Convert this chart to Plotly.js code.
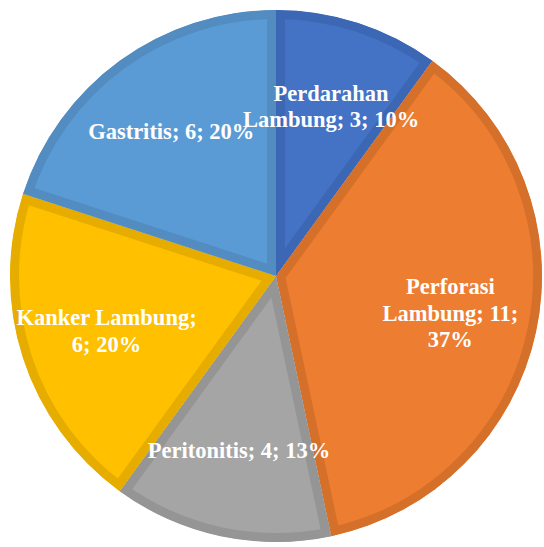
<!DOCTYPE html>
<html><head><meta charset="utf-8">
<script src="https://cdn.plot.ly/plotly-3.0.1.min.js"></script>
<style>html,body{margin:0;padding:0;background:#fff}</style>
</head><body>
<div id="chart" style="width:544px;height:547px"></div>
<script>
const categories = ['Perdarahan<br>Lambung', 'Perforasi<br>Lambung', 'Peritonitis', 'Kanker Lambung', 'Gastritis'];
const values = [3, 11, 4, 6, 6];
const templates = [
  '%{label}; %{value}; %{percent:.0%}',
  '%{label}; %{value};<br>%{percent:.0%}',
  '%{label}; %{value}; %{percent:.0%}',
  '%{label};<br>%{value}; %{percent:.0%}',
  '%{label}; %{value}; %{percent:.0%}'
];
const fillColors = ['#4472C4', '#ED7D31', '#A5A5A5', '#FFC000', '#5B9BD5'];
const lineColors = ['#3C67B4', '#D5702B', '#959595', '#E6AD00', '#528CC0'];
const labelRadiusFraction = 0.67;
const lineSpacingScale = 1.17 / 1.3;

Plotly.newPlot('chart', [{
  type: 'pie',
  labels: categories,
  values: values,
  texttemplate: templates,
  textposition: 'inside',
  insidetextorientation: 'horizontal',
  sort: false,
  direction: 'clockwise',
  rotation: 0,
  hoverinfo: 'none',
  marker: {colors: fillColors, line: {color: lineColors, width: 18}},
  textfont: {family: 'Liberation Serif', size: 22.5, color: '#ffffff', weight: 'bold'},
  domain: {x: [0.0184, 0.9963], y: [0.0091, 0.9817]}
}], {
  width: 544, height: 547,
  margin: {l: 0, r: 0, t: 0, b: 0},
  showlegend: false,
  uniformtext: {mode: 'show', minsize: 22.5},
  paper_bgcolor: '#ffffff'
}, {displayModeBar: false, staticPlot: true}).then(function (gd) {
  const svg = gd.querySelector('svg.main-svg');
  const ns = 'http://www.w3.org/2000/svg';
  const defs = svg.querySelector('defs');
  // clip each slice's stroke to its own shape so the border sits inside the slice
  gd.querySelectorAll('g.slice path.surface').forEach(function (p, i) {
    const cp = document.createElementNS(ns, 'clipPath');
    cp.setAttribute('id', 'sliceclip' + i);
    const cpath = document.createElementNS(ns, 'path');
    cpath.setAttribute('d', p.getAttribute('d'));
    const tr = p.getAttribute('transform');
    if (tr) cpath.setAttribute('transform', tr);
    cp.appendChild(cpath);
    defs.appendChild(cp);
    p.setAttribute('clip-path', 'url(#sliceclip' + i + ')');
  });
  // place labels along each slice's mid-angle and bring them above all slices
  const cd = gd.calcdata[0];
  const cd0 = cd[0];
  const traceG = gd.querySelector('g.trace');
  gd.querySelectorAll('g.slice').forEach(function (s, i) {
    const tg = s.querySelector('g.slicetext');
    if (!tg) return;
    const t = tg.querySelector('text');
    t.querySelectorAll('tspan.line').forEach(function (ln) {
      const dy = ln.getAttribute('dy');
      if (dy && dy.indexOf('em') > 0) {
        ln.setAttribute('dy', (parseFloat(dy) * lineSpacingScale) + 'em');
      }
    });
    const pt = cd[i];
    const tx = cd0.cx + labelRadiusFraction * pt.pxmid[0];
    const ty = cd0.cy + labelRadiusFraction * pt.pxmid[1];
    t.removeAttribute('transform');
    const bb = t.getBBox();
    t.setAttribute('transform', 'translate(' + (tx - (bb.x + bb.width / 2)) + ',' + (ty - (bb.y + bb.height / 2)) + ')');
    traceG.appendChild(tg);
  });
});
</script>
</body></html>
